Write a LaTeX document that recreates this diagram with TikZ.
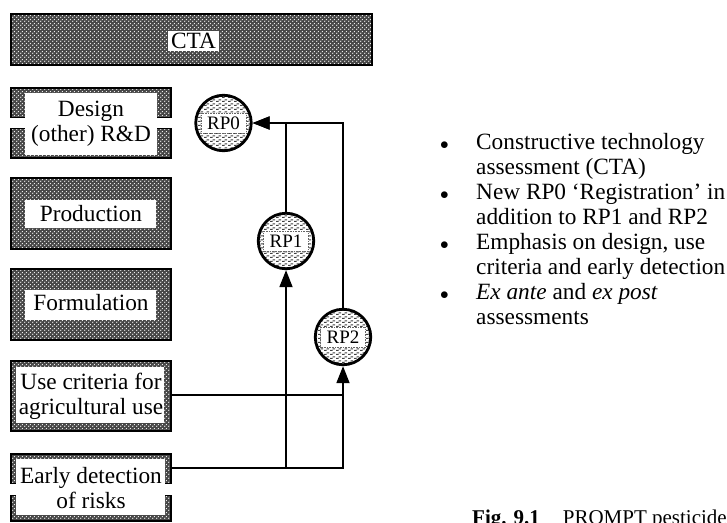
\documentclass[tikz,border=0pt]{standalone}
\usepackage{fontspec}
\setmainfont{Liberation Serif}
\usetikzlibrary{arrows.meta,patterns}

\pgfdeclarepatternformonly{meshdots}{\pgfqpoint{0pt}{0pt}}{\pgfqpoint{4pt}{4pt}}{\pgfqpoint{4pt}{4pt}}{%
  \pgfpathcircle{\pgfqpoint{1pt}{1pt}}{0.8pt}%
  \pgfpathcircle{\pgfqpoint{3pt}{3pt}}{0.8pt}%
  \pgfusepath{fill}}
\pgfdeclarepatternformonly{dashrows}{\pgfqpoint{0pt}{0pt}}{\pgfqpoint{6pt}{4pt}}{\pgfqpoint{6pt}{4pt}}{%
  \pgfpathrectangle{\pgfqpoint{0pt}{0pt}}{\pgfqpoint{3pt}{1.3pt}}%
  \pgfpathrectangle{\pgfqpoint{3pt}{2pt}}{\pgfqpoint{3pt}{1.3pt}}%
  \pgfusepath{fill}}

\newcommand{\mybul}{{\fontsize{19}{19}\selectfont$\bullet$}}

\tikzset{
  meshbox/.style={draw, line width=1.8pt, preaction={fill=black!72}, pattern=meshdots,
    pattern color=white, inner sep=0pt, minimum width=160pt},
  lbl/.style={anchor=base, inner sep=0pt, font=\fontsize{23.3}{25}\selectfont},
  rpc/.style={circle, draw, line width=2.8pt, minimum size=55.5pt, inner sep=0pt,
    preaction={fill=white}, pattern=dashrows, pattern color=black!75},
  rplbl/.style={draw=black!60, densely dotted, line width=0.6pt, fill=white,
    minimum width=45pt, minimum height=20pt, inner sep=0pt, font=\fontsize{19}{20}\selectfont},
  conn/.style={line width=1.8pt},
  arr/.style={conn, -{Triangle[length=17pt,width=13pt]}},
  gapedge/.style={line width=1pt}
}

\begin{document}
\begin{tikzpicture}[x=1pt,y=-1pt]
\useasboundingbox (0,0) rectangle (727,522);
\clip (0,0) rectangle (727,522);

% CTA
\node[meshbox, minimum width=361pt, minimum height=51pt] (cta) at (191.5,39.5) {};
\fill[white] (168,31) rectangle (219,51);
\node[lbl] (ctat) at (193.5,48.5) {CTA};

% Design
\node[meshbox, minimum height=70pt] (design) at (91,123) {};
\fill[white] (25,93) rectangle (157,155);
\fill[white] (9,117.5) rectangle (173,128);
\draw[gapedge] (10,117.5) -- (25,117.5) (10,128) -- (25,128)
  (157,117.5) -- (172,117.5) (157,128) -- (172,128);
\node[lbl] (designa) at (91,116.5) {Design};
\node[lbl] (designb) at (91,141.5) {(other) R\&D};

% Production
\node[meshbox, minimum height=71pt] (prod) at (91,213.5) {};
\fill[white] (25,200) rectangle (156,228);
\node[lbl] (prodt) at (91,221) {Production};

% Formulation
\node[meshbox, minimum height=71pt] (form) at (91,304.5) {};
\fill[white] (25,290) rectangle (156,320);
\node[lbl] (formt) at (91,310.5) {Formulation};

% Use criteria
\node[meshbox, minimum height=70pt] (uc) at (91,396) {};
\fill[white] (16,367) rectangle (164,423);
\node[lbl] (uca) at (91,389.5) {Use criteria for};
\node[lbl] (ucb) at (91,414) {agricultural use};

% Early detection
\node[meshbox, minimum height=67pt] (ed) at (91,487.5) {};
\fill[white] (16,459) rectangle (165,515);
\fill[white] (9,483) rectangle (173,495);
\draw[gapedge] (10,483) -- (16,483) (10,495) -- (16,495)
  (165,483) -- (172,483) (165,495) -- (172,495);
\node[lbl] (eda) at (91,483.5) {Early detection};
\node[lbl] (edb) at (91,508) {of risks};

% RP circles
\node[rpc] (rp0) at (223.5,123) {};
\node[rplbl] (rp0t) at (rp0) {RP0};
\node[rpc] (rp1) at (286,241) {};
\node[rplbl] (rp1t) at (rp1) {RP1};
\node[rpc] (rp2) at (343,337) {};
\node[rplbl] (rp2t) at (rp2) {RP2};

% connectors
\draw[arr] (rp1) |- (rp0);
\draw[arr] (rp2) |- (rp0);
\draw[conn] (uc.east |- 0,395) -- (rp2 |- 0,395);
\draw[arr] (ed.east |- 0,468) -| (rp2);
\draw[arr] (rp1 |- 0,468) -- (rp1);

% bullet list
\node[anchor=north west, inner sep=0pt, font=\fontsize{23.3}{25}\selectfont] (bullets) at (440,132) {%
\begin{tabular}{@{}l@{}l@{}}
\makebox[36pt][l]{\mybul} & Constructive technology\\
 & assessment (CTA)\\
\makebox[36pt][l]{\mybul} & New RP0 ‘Registration’ in\\
 & addition to RP1 and RP2\\
\makebox[36pt][l]{\mybul} & Emphasis on design, use\\
 & criteria and early detection\\
\makebox[36pt][l]{\mybul} & \textit{Ex ante} and \textit{ex post}\\
 & assessments
\end{tabular}};

% caption
\node[anchor=base west, inner sep=0pt, font=\fontsize{21}{23}\selectfont] (caption) at (472,524)
  {\textbf{Fig. 9.1}\hspace{23pt}PROMPT pesticides};
\end{tikzpicture}
\end{document}
